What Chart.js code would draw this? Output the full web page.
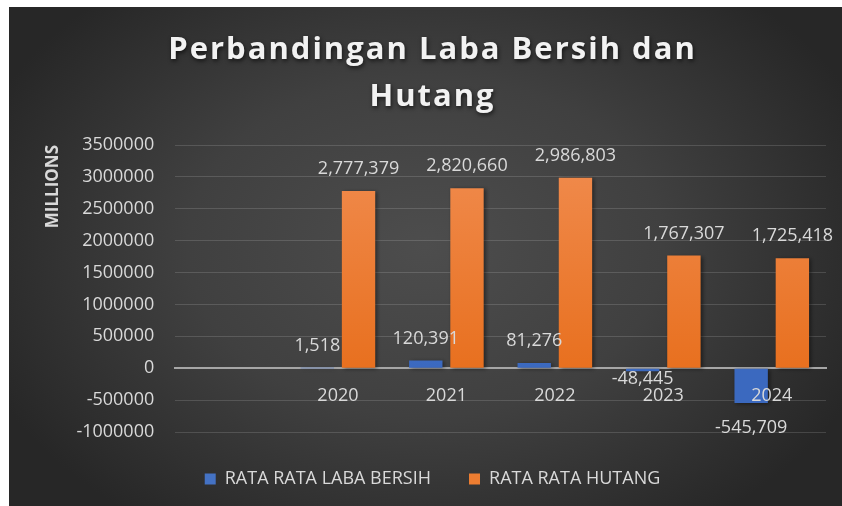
<!DOCTYPE html>
<html>
<head>
<meta charset="utf-8">
<script src="https://cdn.jsdelivr.net/npm/chart.js@4/dist/chart.umd.min.js"></script>
<style>
  html, body { margin:0; padding:0; background:#ffffff; width:842px; height:506px; overflow:hidden; }
  #wrap { position:absolute; left:9px; top:7px; width:833px; height:499px; }
</style>
</head>
<body>
<div id="wrap"><canvas id="c" width="833" height="499"></canvas></div>
<script>
// ---- data ----
const titleLines = ["Perbandingan Laba Bersih dan", "Hutang"];
const categories = ["", "2020", "2021", "2022", "2023", "2024"];
const labaBersih = [null, 1518, 120391, 81276, -48445, -545709];
const hutang = [null, 2777379, 2820660, 2986803, 1767307, 1725418];
const seriesNames = ["RATA RATA LABA BERSIH", "RATA RATA HUTANG"];
const yTickValues = [-1000000, -500000, 0, 500000, 1000000, 1500000, 2000000, 2500000, 3000000, 3500000];
const yAxisTitle = "MILLIONS";

const FONT = "'Open Sans', 'Liberation Sans', sans-serif";
const TEXT = '#d9d9d9';

function vGrad(chart, top, bottom) {
  const ca = chart.chartArea;
  if (!ca) return top;
  const zero = chart.scales.y.getPixelForValue(0);
  const g = chart.ctx.createLinearGradient(0, ca.top + 20, 0, zero);
  g.addColorStop(0, top);
  g.addColorStop(1, bottom);
  return g;
}

const bgPlugin = {
  id: 'bg',
  beforeDraw(chart) {
    const { ctx, width, height } = chart;
    ctx.save();
    ctx.translate(width * 0.5, height * 0.48);
    ctx.scale(1.4, 1);
    const g = ctx.createRadialGradient(0, 0, 0, 0, 0, 340);
    g.addColorStop(0, '#4d4d4d');
    g.addColorStop(0.5, '#404040');
    g.addColorStop(1, '#272727');
    ctx.fillStyle = g;
    ctx.fillRect(-width, -height, width * 2, height * 2);
    ctx.restore();
  },
  afterUpdate(chart) {
    const tb = chart.titleBlock;
    if (tb && !tb._wrappedShadow) {
      const orig = tb.draw.bind(tb);
      tb.draw = function (area) {
        const c = chart.ctx;
        c.save();
        c.shadowColor = 'rgba(0,0,0,0.65)';
        c.shadowBlur = 4;
        c.shadowOffsetX = 1;
        c.shadowOffsetY = 2;
        c.letterSpacing = '2px';
        orig(area);
        c.restore();
      };
      tb._wrappedShadow = true;
    }
  },
  beforeDatasetsDraw(chart) {
    const c = chart.ctx;
    c.save();
    c.shadowColor = 'rgba(0,0,0,0.45)';
    c.shadowBlur = 4;
    c.shadowOffsetX = 2;
    c.shadowOffsetY = 1;
  },
  afterDatasetsDraw(chart) {
    const c = chart.ctx;
    c.restore();
    c.save();
    c.font = "18px " + FONT;
    c.fillStyle = TEXT;
    c.textAlign = 'center';
    c.textBaseline = 'middle';
    chart.data.datasets.forEach((ds, i) => {
      const meta = chart.getDatasetMeta(i);
      meta.data.forEach((bar, j) => {
        const v = ds.data[j];
        if (v === null || v === undefined) return;
        const h = Math.abs(bar.base - bar.y);
        const y = v >= 0 ? bar.y - 22 : bar.y + (h > 20 ? 25 : 8);
        c.fillText(v.toLocaleString('en-US'), bar.x, y);
      });
    });
    c.restore();
  }
};

const chart = new Chart(document.getElementById('c'), {
  type: 'bar',
  data: {
    labels: categories,
    datasets: [
      {
        label: seriesNames[0],
        data: labaBersih,
        backgroundColor: (ctx) => vGrad(ctx.chart, '#5283d6', '#3b69bf'),
        categoryPercentage: 0.76,
        barPercentage: 0.81
      },
      {
        label: seriesNames[1],
        data: hutang,
        backgroundColor: (ctx) => vGrad(ctx.chart, '#f08a4c', '#e8701f'),
        categoryPercentage: 0.76,
        barPercentage: 0.81
      }
    ]
  },
  options: {
    responsive: false,
    animation: false,
    events: [],
    layout: { padding: { left: 30, right: 16, top: 0, bottom: 8 } },
    plugins: {
      tooltip: { enabled: false },
      title: {
        display: true,
        text: titleLines,
        color: '#f2f2f2',
        font: { family: FONT, size: 31, weight: 'bold', lineHeight: 1.5 },
        padding: { top: 20, bottom: 25 }
      },
      legend: {
        position: 'bottom',
        labels: {
          color: TEXT,
          font: { family: FONT, size: 18 },
          boxWidth: 11,
          boxHeight: 11,
          padding: 38,
          generateLabels(chart) {
            const solid = ['#4472c4', '#ed7d31'];
            return chart.data.datasets.map((ds, i) => ({
              text: ds.label,
              fillStyle: solid[i],
              strokeStyle: 'rgba(0,0,0,0)',
              lineWidth: 0,
              fontColor: TEXT,
              hidden: false,
              datasetIndex: i
            }));
          }
        }
      }
    },
    scales: {
      x: {
        position: { y: 0 },
        grid: { display: false, drawTicks: false },
        border: { display: true, color: '#a6a6a6', width: 2 },
        ticks: { z: 1, color: TEXT, font: { family: FONT, size: 18 }, padding: 17, maxRotation: 0, autoSkip: false }
      },
      y: {
        min: -1000000,
        max: 3500000,
        afterBuildTicks(scale) { scale.ticks = yTickValues.map(v => ({ value: v })); },
        grid: {
          color: (ctx) => (ctx.tick && ctx.tick.value === 0) ? 'rgba(0,0,0,0)' : 'rgba(255,255,255,0.14)',
          lineWidth: 1,
          drawTicks: false
        },
        border: { display: false },
        ticks: {
          color: TEXT,
          font: { family: FONT, size: 18 },
          padding: 21,
          callback: (v) => String(v)
        },
        title: {
          display: true,
          text: yAxisTitle,
          align: 'end',
          color: TEXT,
          font: { family: FONT, size: 17, weight: 'bold' },
          padding: { top: 4, bottom: -8 }
        }
      }
    }
  },
  plugins: [bgPlugin]
});
</script>
</body>
</html>
